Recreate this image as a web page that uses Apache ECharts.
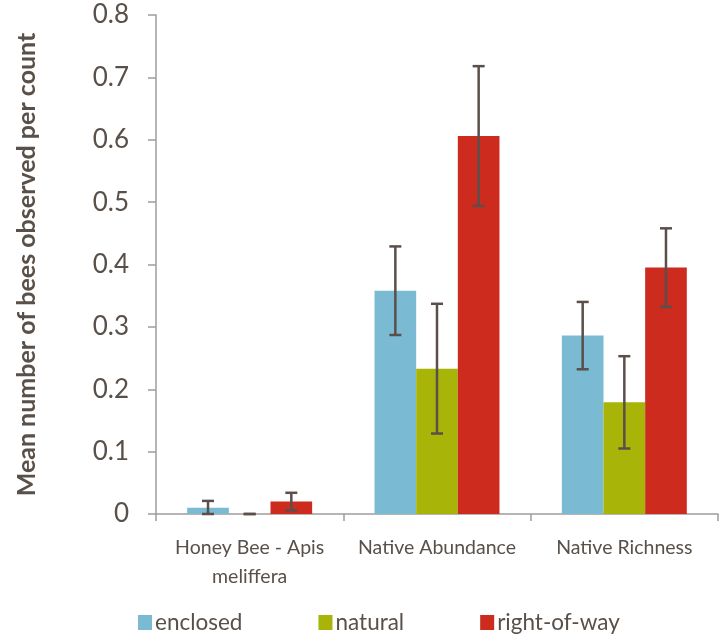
<!DOCTYPE html>
<html><head><meta charset="utf-8">
<script src="https://cdn.jsdelivr.net/npm/echarts@6/dist/echarts.min.js"></script>
<style>html,body{margin:0;padding:0;background:#fff}#c{width:720px;height:638px}</style>
</head><body><div id="c"></div>
<script>
const categories = ['Honey Bee - Apis\nmeliffera', 'Native Abundance', 'Native Richness'];
const seriesNames = ['enclosed', 'natural', 'right-of-way'];
const enclosed = [0.010, 0.358, 0.286];
const natural = [0.000, 0.233, 0.179];
const rightOfWay = [0.020, 0.606, 0.395];
const enclosedErr = [0.011, 0.071, 0.054];
const naturalErr = [0.000, 0.104, 0.074];
const rightOfWayErr = [0.014, 0.112, 0.063];
const colors = ['#7ABAD3', '#A8B407', '#CC2B1D'];
const yTicks = [0, 0.1, 0.2, 0.3, 0.4, 0.5, 0.6, 0.7, 0.8];

const values = [enclosed, natural, rightOfWay];
const errs = [enclosedErr, naturalErr, rightOfWayErr];
const catGap = 0.333;
const textColor = '#595049';
const axisColor = '#a09c9a';
const font = 'Lato';

const chart = echarts.init(document.getElementById('c'), null, {renderer: 'canvas'});

const barSeries = values.map((v, i) => ({
  name: seriesNames[i], type: 'bar', data: v,
  barGap: '0%', barCategoryGap: (catGap * 100) + '%',
  itemStyle: {color: colors[i]}, silent: true
}));

const errSeries = values.map((v, i) => ({
  type: 'custom', name: seriesNames[i] + '-err', silent: true, z: 10,
  data: v.map((val, j) => [j, val, errs[i][j]]),
  renderItem: function (params, api) {
    const x = api.value(0), y = api.value(1), e = api.value(2);
    const band = api.size([1, 0])[0];
    const bw = band * (1 - catGap) / 3;
    const c = api.coord([x, y]);
    const cx = c[0] + (i - 1) * bw;
    const top = api.coord([x, y + e])[1];
    const bot = api.coord([x, Math.max(0, y - e)])[1];
    const hw = 6;
    const st = {stroke: '#5a4f4a', lineWidth: 2.5};
    return {type: 'group', children: [
      {type: 'line', shape: {x1: cx, y1: top, x2: cx, y2: bot}, style: st},
      {type: 'line', shape: {x1: cx - hw, y1: top, x2: cx + hw, y2: top}, style: st},
      {type: 'line', shape: {x1: cx - hw, y1: bot, x2: cx + hw, y2: bot}, style: st}
    ]};
  }
}));

chart.setOption({
  animation: false,
  textStyle: {fontFamily: font},
  grid: {left: 156, right: 2, top: 15, bottom: 124, containLabel: false},
  legend: {
    data: seriesNames, bottom: -1, left: 133, itemWidth: 14, itemHeight: 15,
    itemGap: 76, icon: 'rect',
    textStyle: {fontSize: 22.5, color: textColor, fontFamily: font, padding: [0, 0, 0, -2]}
  },
  xAxis: {
    type: 'category', data: categories,
    axisLine: {lineStyle: {color: axisColor, width: 1.5}},
    axisTick: {show: true, length: 7, lineStyle: {color: axisColor, width: 1.5}},
    axisLabel: {interval: 0, hideOverlap: false, fontSize: 19.5, color: textColor, margin: 19, lineHeight: 29, fontFamily: font}
  },
  yAxis: {
    type: 'value', min: 0, max: 0.8, interval: 0.1,
    name: 'Mean number of bees observed per count', nameLocation: 'middle', nameGap: 117,
    nameTextStyle: {fontSize: 25, fontWeight: 'bold', color: textColor, fontFamily: font},
    axisLine: {show: true, lineStyle: {color: axisColor, width: 1.5}},
    axisTick: {show: true, length: 8, lineStyle: {color: axisColor, width: 1.5}},
    splitLine: {show: false},
    axisLabel: {fontSize: 26, color: textColor, margin: 27, fontFamily: font,
      formatter: v => yTicks.includes(Math.round(v * 10) / 10) ? String(Math.round(v * 10) / 10) : ''}
  },
  series: barSeries.concat(errSeries)
});
</script></body></html>
